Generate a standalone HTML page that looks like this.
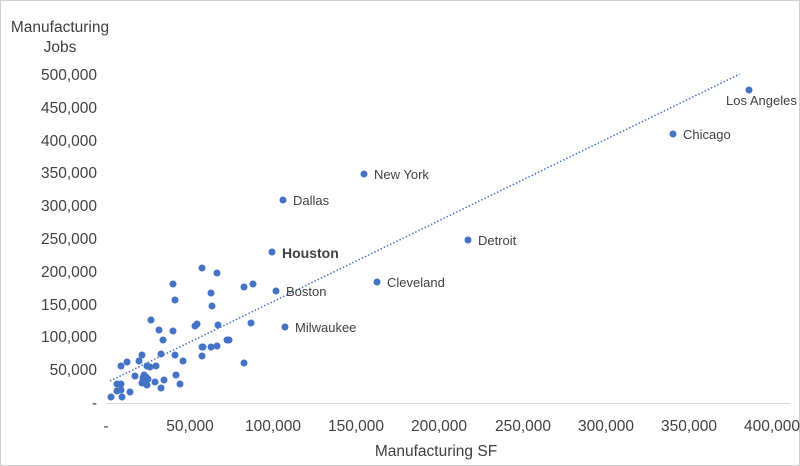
<!DOCTYPE html>
<html><head><meta charset="utf-8"><style>
html,body{margin:0;padding:0;background:#fff}
svg{display:block}
text{font-family:"Liberation Sans",sans-serif;fill:#404040}
</style></head><body>
<svg width="800" height="466" viewBox="0 0 800 466">
<rect x="0.5" y="0.5" width="799" height="465" fill="#fff" stroke="#d0d0d0"/>
<text x="60" y="32" font-size="15.5" text-anchor="middle">Manufacturing</text>
<text x="60" y="52" font-size="15.5" text-anchor="middle">Jobs</text>
<g font-size="15.5" text-anchor="end">
<text x="97" y="80">500,000</text><text x="97" y="113">450,000</text><text x="97" y="146">400,000</text>
<text x="97" y="178">350,000</text><text x="97" y="211">300,000</text><text x="97" y="244">250,000</text>
<text x="97" y="277">200,000</text><text x="97" y="310">150,000</text><text x="97" y="342">100,000</text>
<text x="97" y="375">50,000</text><text x="97" y="408">-</text>
</g>
<line x1="106" y1="403.5" x2="790" y2="403.5" stroke="#d9d9d9"/>
<g font-size="15.5" text-anchor="middle">
<text x="106" y="431">-</text><text x="190" y="431">50,000</text><text x="273" y="431">100,000</text>
<text x="356" y="431">150,000</text><text x="439" y="431">200,000</text><text x="523" y="431">250,000</text>
<text x="606" y="431">300,000</text><text x="689" y="431">350,000</text><text x="772" y="431">400,000</text>
</g>
<text x="436" y="456" font-size="15.5" text-anchor="middle">Manufacturing SF</text>
<line x1="110" y1="381" x2="740" y2="74" stroke="#4472C4" stroke-width="1.5" stroke-dasharray="1.5,2"/>
<g fill="#4472C4">
<circle cx="749" cy="90" r="3.5"/><circle cx="673" cy="134" r="3.5"/><circle cx="364" cy="174" r="3.5"/>
<circle cx="283" cy="200" r="3.5"/><circle cx="468" cy="240" r="3.5"/><circle cx="272" cy="252" r="3.5"/>
<circle cx="377" cy="282" r="3.5"/><circle cx="276" cy="291" r="3.5"/><circle cx="285" cy="327" r="3.5"/>
<circle cx="202" cy="268" r="3.5"/><circle cx="217" cy="273" r="3.5"/><circle cx="173" cy="284" r="3.5"/>
<circle cx="244" cy="287" r="3.5"/><circle cx="253" cy="284" r="3.5"/><circle cx="175" cy="300" r="3.5"/>
<circle cx="211" cy="293" r="3.5"/><circle cx="212" cy="306" r="3.5"/><circle cx="151" cy="320" r="3.5"/>
<circle cx="159" cy="330" r="3.5"/><circle cx="173" cy="331" r="3.5"/><circle cx="163" cy="340" r="3.5"/>
<circle cx="195" cy="326" r="3.5"/><circle cx="197" cy="324" r="3.5"/><circle cx="218" cy="325" r="3.5"/>
<circle cx="251" cy="323" r="3.5"/><circle cx="227" cy="340" r="3.5"/><circle cx="229" cy="340" r="3.5"/>
<circle cx="202" cy="347" r="3.5"/><circle cx="203" cy="347" r="3.5"/><circle cx="211" cy="347" r="3.5"/>
<circle cx="217" cy="346" r="3.5"/><circle cx="161" cy="354" r="3.5"/><circle cx="175" cy="355" r="3.5"/>
<circle cx="183" cy="361" r="3.5"/><circle cx="202" cy="356" r="3.5"/><circle cx="244" cy="363" r="3.5"/>
<circle cx="142" cy="355" r="3.5"/><circle cx="139" cy="361" r="3.5"/><circle cx="127" cy="362" r="3.5"/>
<circle cx="121" cy="366" r="3.5"/><circle cx="147" cy="366" r="3.5"/><circle cx="150" cy="367" r="3.5"/>
<circle cx="156" cy="366" r="3.5"/><circle cx="135" cy="376" r="3.5"/><circle cx="146" cy="377" r="3.5"/>
<circle cx="143" cy="378" r="3.5"/><circle cx="148" cy="379" r="3.5"/><circle cx="145" cy="381" r="3.5"/>
<circle cx="142" cy="383" r="3.5"/><circle cx="147" cy="385" r="3.5"/><circle cx="164" cy="380" r="3.5"/>
<circle cx="155" cy="382" r="3.5"/><circle cx="176" cy="375" r="3.5"/><circle cx="180" cy="384" r="3.5"/>
<circle cx="161" cy="388" r="3.5"/><circle cx="117" cy="384" r="3.5"/><circle cx="121" cy="384" r="3.5"/>
<circle cx="117" cy="391" r="3.5"/><circle cx="121" cy="390" r="3.5"/><circle cx="130" cy="392" r="3.5"/>
<circle cx="111" cy="397" r="3.5"/><circle cx="122" cy="397" r="3.5"/><circle cx="144" cy="375" r="3.5"/>
</g>
<g font-size="13">
<text x="726" y="105">Los Angeles</text><text x="683" y="139">Chicago</text><text x="374" y="179">New York</text>
<text x="293" y="205">Dallas</text><text x="478" y="245">Detroit</text>
<text x="282" y="258" font-size="14" font-weight="bold">Houston</text>
<text x="387" y="287">Cleveland</text><text x="286" y="296">Boston</text><text x="295" y="332">Milwaukee</text>
</g>
</svg>
</body></html>
